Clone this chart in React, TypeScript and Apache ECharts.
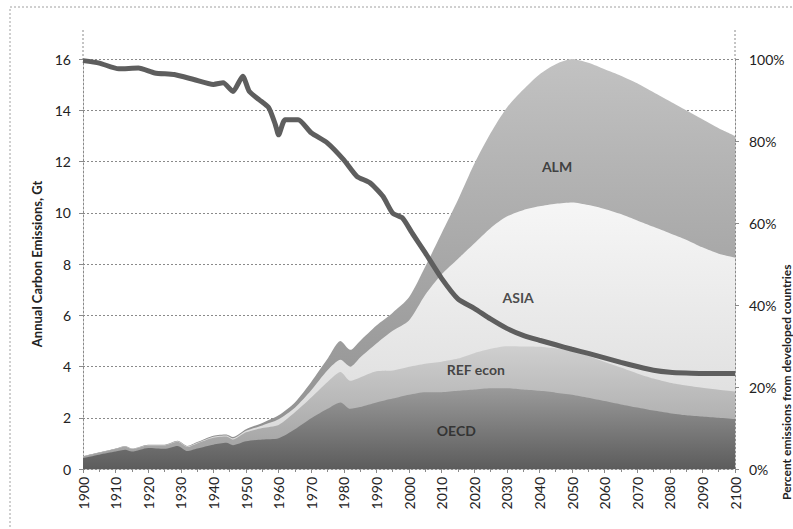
import React, { useEffect, useRef } from "react";
import * as echarts from "echarts";

// ---------- data ----------
const years = [1900, 1905, 1910, 1913, 1915, 1920, 1925, 1929, 1932, 1935, 1940, 1944, 1946, 1950, 1955, 1960, 1965, 1970, 1975, 1979, 1982, 1985, 1990, 1995, 2000, 2005, 2010, 2015, 2020, 2025, 2030, 2035, 2040, 2045, 2050, 2055, 2060, 2065, 2070, 2075, 2080, 2085, 2090, 2095, 2100];
const oecd = [0.43, 0.56, 0.68, 0.75, 0.68, 0.82, 0.79, 0.9, 0.7, 0.8, 0.95, 1.02, 0.93, 1.08, 1.15, 1.2, 1.55, 1.98, 2.35, 2.6, 2.35, 2.42, 2.6, 2.75, 2.9, 3.0, 3.0, 3.05, 3.1, 3.15, 3.15, 3.1, 3.05, 2.98, 2.9, 2.78, 2.65, 2.52, 2.4, 2.28, 2.18, 2.1, 2.05, 2.0, 1.95];
const refEcon = [0.06, 0.08, 0.11, 0.13, 0.1, 0.1, 0.13, 0.16, 0.16, 0.2, 0.27, 0.25, 0.22, 0.35, 0.45, 0.52, 0.66, 0.81, 1.05, 1.19, 1.09, 1.15, 1.21, 1.09, 1.09, 1.11, 1.19, 1.26, 1.42, 1.54, 1.64, 1.68, 1.72, 1.73, 1.71, 1.63, 1.53, 1.44, 1.33, 1.25, 1.19, 1.16, 1.12, 1.09, 1.07];
const asia = [0.0, 0.0, 0.0, 0.01, 0.01, 0.01, 0.01, 0.02, 0.02, 0.02, 0.04, 0.04, 0.05, 0.06, 0.1, 0.22, 0.18, 0.28, 0.45, 0.47, 0.55, 0.78, 1.09, 1.56, 1.81, 2.69, 3.41, 3.89, 4.28, 4.71, 5.06, 5.32, 5.48, 5.64, 5.79, 5.89, 5.97, 5.99, 5.97, 5.92, 5.83, 5.69, 5.48, 5.31, 5.23];
const alm = [0.01, 0.01, 0.01, 0.01, 0.01, 0.02, 0.02, 0.02, 0.02, 0.03, 0.04, 0.04, 0.05, 0.06, 0.1, 0.16, 0.21, 0.33, 0.45, 0.74, 0.66, 0.65, 0.7, 0.7, 0.9, 1.1, 1.6, 2.3, 3.1, 3.7, 4.25, 4.7, 5.15, 5.45, 5.6, 5.55, 5.45, 5.4, 5.35, 5.25, 5.15, 5.05, 5.0, 4.9, 4.75];

const pctYears = [1900, 1905, 1911, 1917, 1922, 1928, 1934, 1940, 1943, 1946, 1949, 1951, 1954, 1957, 1959, 1960, 1962, 1966, 1970, 1975, 1980, 1984, 1988, 1992, 1995, 1998, 2001, 2005, 2010, 2015, 2020, 2025, 2030, 2035, 2040, 2045, 2050, 2055, 2060, 2065, 2070, 2075, 2080, 2085, 2090, 2095, 2100];
const pctDeveloped = [99.6, 99.0, 97.6, 97.8, 96.6, 96.2, 95.0, 93.8, 94.2, 92.1, 95.8, 92.1, 90.1, 88.1, 84.0, 81.5, 85.2, 85.2, 82.0, 79.5, 75.4, 71.4, 69.8, 66.5, 62.4, 61.2, 57.5, 52.7, 46.5, 41.5, 39.2, 36.6, 34.3, 32.6, 31.4, 30.3, 29.2, 28.2, 27.1, 26.0, 25.0, 24.1, 23.6, 23.4, 23.3, 23.3, 23.3];

const regionNames = ["ALM", "ASIA", "REF econ", "OECD"];
const regionLabelYears = [2045.4, 2033.5, 2020.5, 2014.5];
const regionLabelValues = [11.8, 6.7, 3.9, 1.5];

const leftTitle = "Annual Carbon Emissions, Gt";
const rightTitle = "Percent emissions from developed countries";

// ---------- layout / style ----------
const W = 793;
const H = 529;
const GRID = { left: 83, right: 58, top: 59, bottom: 60 };
const FONT = "Lato, 'Open Sans', sans-serif";
const AXIS_GRAY = "#8a8a8a";
const TEXT = "#222";

const grad = (top: string, bottom: string) => ({
  type: "linear",
  x: 0,
  y: 0,
  x2: 0,
  y2: 1,
  colorStops: [
    { offset: 0, color: top },
    { offset: 1, color: bottom },
  ],
});

// stacked layers (bottom to top), cumulative tops computed from the arrays
const layers = [
  { name: "OECD", values: oecd, color: grad("#9a9a9a", "#5c5c5c") },
  { name: "REF econ", values: refEcon, color: grad("#cfcfcf", "#9c9c9c") },
  { name: "ASIA", values: asia, color: grad("#f6f6f6", "#d8d8d8") },
  { name: "ALM", values: alm, color: grad("#c2c2c2", "#8c8c8c") },
];

export default function App() {
  const ref = useRef<HTMLDivElement>(null);

  useEffect(() => {
    if (!ref.current) return;
    const chart = echarts.init(ref.current, null, { renderer: "svg" });
    const dotted = { color: AXIS_GRAY, width: 1, type: [2, 2] as any };

    const running = years.map(() => 0);
    const stackedTops = layers.map((layer) => {
      const tops = layer.values.map((v, i) => {
        running[i] += v;
        return +running[i].toFixed(3);
      });
      return { ...layer, tops };
    });

    // draw top layer first so lower layers cover it
    const areaSeries = stackedTops
      .slice()
      .reverse()
      .map((layer, k) => ({
        name: layer.name,
        type: "line",
        data: years.map((y, i) => [y, layer.tops[i]]),
        showSymbol: false,
        symbol: "none",
        smooth: 0.25,
        lineStyle: { width: 0 },
        areaStyle: { color: layer.color, opacity: 1, origin: "start" },
        z: 2 + k,
        silent: true,
      }));

    const axisLeft = GRID.left;
    const axisRight = W - GRID.right;

    chart.setOption({
      animation: false,
      backgroundColor: "#ffffff",
      textStyle: { fontFamily: FONT },
      grid: { ...GRID, containLabel: false },
      xAxis: {
        type: "value",
        min: 1900,
        max: 2100,
        interval: 10,
        axisLine: { show: true, lineStyle: dotted },
        axisTick: { show: true, length: 4, lineStyle: { color: AXIS_GRAY } },
        minorTick: { show: true, splitNumber: 2, length: 3, lineStyle: { color: AXIS_GRAY } },
        splitLine: { show: false },
        minorSplitLine: { show: false },
        axisLabel: {
          rotate: 90,
          margin: 8,
          fontSize: 14,
          color: TEXT,
          fontFamily: FONT,
          formatter: (v: number) => String(v),
        },
      },
      yAxis: [
        {
          type: "value",
          min: 0,
          max: 16,
          interval: 2,
          position: "left",
          name: leftTitle,
          nameLocation: "middle",
          nameGap: 40,
          nameTextStyle: { fontSize: 13, fontWeight: "bold", color: TEXT, fontFamily: FONT },
          axisLine: { show: true, lineStyle: dotted },
          axisTick: { show: true, length: 4, lineStyle: { color: AXIS_GRAY } },
          splitLine: { show: true, lineStyle: dotted },
          axisLabel: { fontSize: 14, color: TEXT, margin: 12, fontFamily: FONT },
        },
        {
          type: "value",
          min: 0,
          max: 100,
          interval: 20,
          position: "right",
          axisLine: { show: true, lineStyle: dotted },
          axisTick: { show: true, length: 4, lineStyle: { color: AXIS_GRAY } },
          splitLine: { show: false },
          axisLabel: { fontSize: 14, color: TEXT, margin: 14, fontFamily: FONT, formatter: "{value}%" },
        },
      ],
      graphic: [
        {
          type: "rect",
          shape: { x: 10, y: 7, width: W + 40, height: H + 40 },
          style: { fill: "none", stroke: "#a0a0a0", lineWidth: 1, lineDash: [2, 2] },
          silent: true,
        },
        {
          type: "line",
          shape: { x1: axisLeft, y1: 30, x2: axisLeft, y2: GRID.top },
          style: { stroke: AXIS_GRAY, lineWidth: 1, lineDash: [2, 2] },
          silent: true,
        },
        {
          type: "line",
          shape: { x1: axisRight, y1: 30, x2: axisRight, y2: GRID.top },
          style: { stroke: AXIS_GRAY, lineWidth: 1, lineDash: [2, 2] },
          silent: true,
        },
        {
          type: "text",
          x: 780,
          y: 500,
          rotation: Math.PI / 2,
          style: {
            text: rightTitle,
            font: `bold 12px ${FONT}`,
            fill: TEXT,
            align: "left",
            verticalAlign: "top",
          },
          silent: true,
        },
      ],
      series: [
        ...areaSeries,
        {
          name: "Percent developed",
          type: "line",
          yAxisIndex: 1,
          data: pctYears.map((y, i) => [y, pctDeveloped[i]]),
          showSymbol: false,
          symbol: "none",
          smooth: 0.2,
          lineStyle: { color: "#5e5e5e", width: 5 },
          z: 10,
          silent: true,
        },
        {
          name: "labels",
          type: "scatter",
          symbolSize: 0,
          data: regionNames.map((n, i) => ({ name: n, value: [regionLabelYears[i], regionLabelValues[i]] })),
          label: {
            show: true,
            position: "inside",
            formatter: "{b}",
            fontSize: 14,
            fontWeight: "bold",
            color: TEXT,
            fontFamily: FONT,
          },
          z: 12,
          silent: true,
        },
      ],
    });

    return () => chart.dispose();
  }, []);

  return (
    <div
      ref={ref}
      style={{ position: "absolute", left: 0, top: 0, width: W, height: H, background: "#fff" }}
    />
  );
}
